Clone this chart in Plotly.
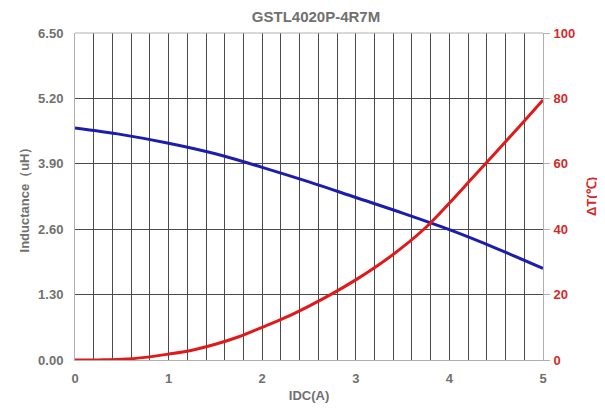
import plotly.graph_objects as go

idc = [0, 0.5, 1.0, 1.5, 2.0, 2.5, 3.0, 3.5, 4.0, 4.5, 5.0]
inductance = [4.61, 4.48, 4.31, 4.10, 3.83, 3.54, 3.23, 2.92, 2.59, 2.22, 1.82]

idc_t = [0, 0.25, 0.5, 0.75, 1.0, 1.25, 1.5, 1.75, 2.0, 2.25, 2.5, 2.75, 3.0, 3.25, 3.5, 3.75, 4.0, 4.25, 4.5, 4.75, 5.0]
delta_t = [0, 0.03, 0.2, 0.8, 1.8, 3.0, 4.8, 7.1, 10.0, 13.0, 16.5, 20.3, 24.5, 29.2, 34.5, 40.6, 48.0, 55.8, 63.6, 71.5, 79.5]

y_ticks = [0, 1.3, 2.6, 3.9, 5.2, 6.5]
y2_ticks = [0, 20, 40, 60, 80, 100]
x_ticks = [0, 1, 2, 3, 4, 5]

gray = "#707070"
red = "#d42a2a"
grid = "#4a4a4a"
font = "Liberation Sans, Arial, sans-serif"

W, H = 597, 400  # page body has an 8px margin

fig = go.Figure()
fig.add_trace(go.Scatter(x=idc, y=inductance, mode="lines", line=dict(color="#1c1cb0", width=3, shape="spline"), yaxis="y", showlegend=False))
fig.add_trace(go.Scatter(x=idc_t, y=delta_t, mode="lines", line=dict(color="#e01a1a", width=3, shape="spline"), yaxis="y2", showlegend=False))

fig.update_layout(
    width=W, height=H,
    margin=dict(l=67, r=62, t=25, b=48, autoexpand=False),
    paper_bgcolor="white", plot_bgcolor="white",
    title=dict(text="GSTL4020P-4R7M", x=308/W, xanchor="center", y=1, yanchor="top", pad=dict(t=3),
               font=dict(family=font, size=15, color=gray, weight="bold")),
    xaxis=dict(range=[0, 5], tickvals=x_ticks, ticktext=[str(v) for v in x_ticks], automargin=False,
               showgrid=True, gridcolor=grid, gridwidth=1,
               minor=dict(dtick=0.2, tick0=0, showgrid=True, gridcolor=grid, gridwidth=1),
               showline=True, linecolor="#b0b0b0", linewidth=1, zeroline=False,
               ticks="", ticklabelstandoff=6,
               tickfont=dict(family=font, size=13, color=gray, weight="bold"),
               title=dict(text="IDC(A)", font=dict(family=font, size=13, color=gray, weight="bold"), standoff=6)),
    yaxis=dict(range=[0, 6.5], tickvals=y_ticks, ticktext=["%.2f" % v for v in y_ticks], automargin=False,
               showgrid=True, gridcolor=grid, gridwidth=1, zeroline=False,
               showline=True, linecolor="#b0b0b0", linewidth=1, mirror=False,
               ticks="", ticklabelstandoff=8,
               tickfont=dict(family=font, size=13, color=gray, weight="bold"),
               title=dict(text="Inductance（uH）", font=dict(family=font, size=13, color=gray, weight="bold"), standoff=5)),
    yaxis2=dict(range=[0, 100], tickvals=y2_ticks, overlaying="y", side="right", automargin=False,
                showgrid=False, zeroline=False, showline=True, linecolor="#b0b0b0", linewidth=1,
                ticks="outside", ticklen=6, tickcolor="#b0b0b0", ticklabelstandoff=1,
                tickfont=dict(family=font, size=13, color=red, weight="bold"),
                title=dict(text="ΔT(℃)", font=dict(family=font, size=13, color=red, weight="bold"), standoff=12)),
    shapes=[dict(type="line", xref="paper", yref="paper", x0=0, x1=1, y0=1, y1=1, line=dict(color="#b0b0b0", width=1))],
)

fig.write_html("out.html")
